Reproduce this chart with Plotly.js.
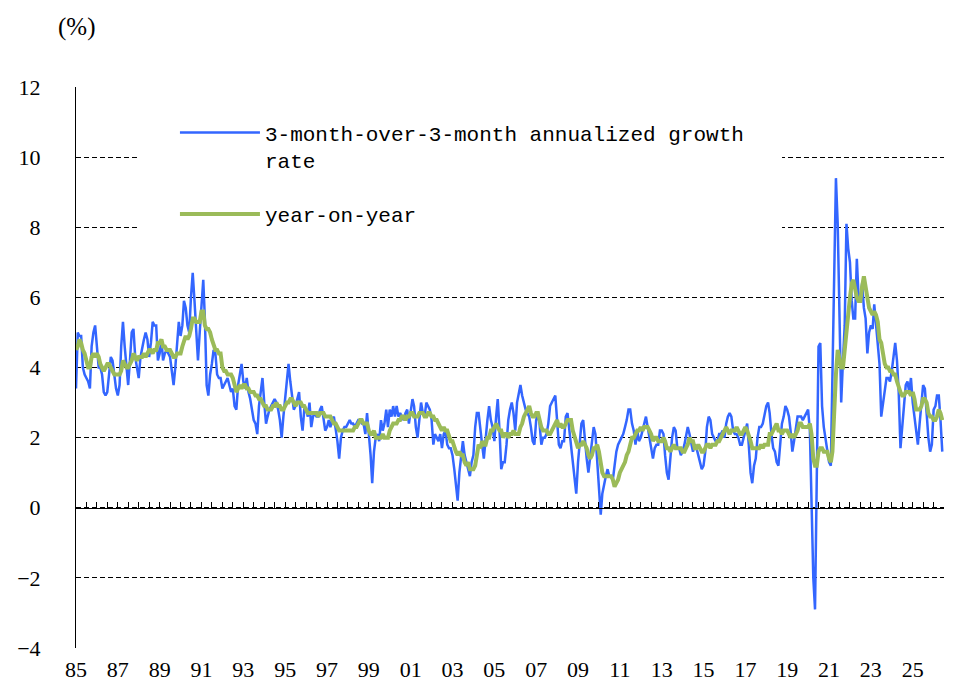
<!DOCTYPE html>
<html>
<head>
<meta charset="utf-8">
<script src="https://cdn.plot.ly/plotly-3.0.1.min.js"></script>
<style>
html, body { margin: 0; padding: 0; background: #fff; }
#chart { width: 965px; height: 695px; }
</style>
</head>
<body>
<div id="chart"></div>
<script>
// monthly series, starting January 1985
var startYear = 1985;

// 3-month-over-3-month annualized growth rate (%)
var annualized = [
	3.4, 5.0, 4.9, 4.9, 4.0, 3.8, 3.7, 3.6, 3.4, 4.6, 5.0, 5.2,
	4.6, 4.0, 4.0, 3.8, 3.3, 3.2, 3.3, 3.9, 4.3, 4.2, 3.8, 3.4,
	3.2, 3.5, 4.6, 5.3, 4.6, 4.0, 3.5, 4.2, 5.0, 5.1, 4.3, 4.0,
	3.7, 4.3, 4.6, 4.8, 5.0, 4.8, 4.3, 4.7, 5.3, 5.2, 5.2, 4.2,
	4.4, 4.8, 4.2, 4.4, 4.5, 4.4, 4.3, 3.9, 3.5, 4.0, 4.8, 5.3,
	4.9, 5.2, 5.9, 5.7, 5.2, 5.0, 6.0, 6.7, 5.9, 5.2, 4.2, 5.0,
	5.8, 6.5, 5.4, 3.5, 3.2, 3.8, 4.1, 4.5, 4.4, 3.8, 3.7, 3.7,
	3.4, 3.5, 3.6, 3.7, 3.5, 3.3, 3.4, 2.9, 2.8, 3.5, 3.8, 4.1,
	3.6, 3.4, 3.7, 3.3, 3.1, 2.8, 2.5, 2.4, 2.1, 2.9, 3.4, 3.7,
	3.0, 2.4, 2.6, 2.8, 2.9, 3.0, 3.1, 3.0, 2.8, 2.5, 2.0, 2.6,
	3.2, 3.7, 4.1, 3.6, 3.2, 2.8, 2.9, 3.1, 3.3, 2.6, 2.2, 2.8,
	2.8, 2.6, 3.0, 2.3, 2.6, 2.7, 2.6, 2.6, 2.8, 2.9, 2.6, 2.2,
	2.3, 2.5, 2.3, 2.5, 2.6, 2.3, 1.9, 1.4, 2.0, 2.2, 2.3, 2.3,
	2.4, 2.5, 2.4, 2.4, 2.3, 2.4, 2.5, 2.5, 2.4, 2.4, 2.1, 2.7,
	2.2, 1.5, 0.7, 1.6, 2.0, 2.1, 1.9, 2.5, 2.2, 2.4, 2.8, 2.3,
	2.8, 2.6, 2.9, 2.6, 2.9, 2.6, 2.7, 2.6, 2.5, 2.7, 2.8, 2.4,
	2.7, 3.1, 2.9, 2.3, 2.0, 2.6, 3.0, 2.7, 2.6, 3.0, 2.9, 2.8,
	2.5, 1.8, 2.1, 2.0, 1.9, 2.1, 1.7, 2.1, 2.2, 1.8, 1.7, 1.7,
	1.5, 1.1, 0.7, 0.2, 1.0, 1.5, 1.9, 1.5, 1.3, 1.1, 0.9, 1.3,
	1.5, 2.3, 2.7, 2.7, 2.2, 1.8, 1.4, 2.0, 2.5, 2.9, 2.5, 2.3,
	1.9, 2.6, 3.1, 2.2, 1.1, 1.3, 1.3, 1.8, 2.5, 2.8, 3.0, 2.7,
	2.2, 3.0, 3.2, 3.5, 3.2, 3.0, 2.8, 2.7, 2.6, 2.3, 1.9, 1.8,
	2.5, 2.7, 2.4, 1.8, 2.0, 2.0, 2.1, 2.4, 2.9, 3.0, 3.1, 3.2,
	2.5, 1.8, 1.7, 1.9, 1.9, 2.6, 2.7, 2.2, 1.7, 1.3, 0.8, 0.4,
	1.3, 2.0, 2.4, 2.5, 1.9, 1.4, 1.0, 1.5, 2.0, 2.3, 2.1, 1.4,
	0.4, -0.2, 0.4, 0.7, 0.9, 1.1, 0.9, 0.9, 0.8, 1.2, 1.6, 1.8,
	1.9, 2.0, 2.1, 2.3, 2.5, 2.8, 2.8, 2.4, 2.2, 1.8, 2.2, 1.9,
	2.0, 2.2, 2.4, 2.6, 2.3, 2.0, 1.7, 1.4, 1.7, 1.8, 1.8, 2.2,
	2.2, 2.1, 1.5, 1.0, 0.8, 1.4, 2.0, 2.3, 2.2, 1.7, 1.7, 1.5,
	1.6, 1.8, 2.0, 2.3, 2.1, 1.8, 1.6, 1.8, 1.7, 1.5, 1.3, 1.1,
	1.2, 1.6, 2.3, 2.6, 2.5, 2.1, 2.0, 1.9, 1.9, 2.1, 2.1, 2.2,
	2.0, 2.4, 2.6, 2.7, 2.6, 2.2, 2.1, 2.1, 2.0, 1.8, 1.8, 2.0,
	2.2, 2.4, 1.8, 1.0, 0.7, 1.2, 1.4, 2.0, 2.3, 2.3, 2.4, 2.7,
	2.9, 3.0, 2.7, 2.1, 1.7, 1.6, 1.3, 1.2, 1.8, 2.4, 2.6, 2.9,
	2.8, 2.6, 2.2, 1.6, 1.9, 2.3, 2.6, 2.6, 2.6, 2.5, 2.6, 2.7,
	2.8, 2.2, 0.0, -2.0, -2.9, 1.5, 4.6, 4.7, 2.9, 2.3, 2.0, 1.6,
	1.3, 1.2, 3.5, 6.2, 9.4, 8.1, 5.0, 3.0, 4.2, 5.2, 8.1, 7.4,
	7.0, 5.9, 5.4, 5.4, 7.1, 6.0, 5.9, 6.4, 5.7, 5.4, 4.4, 5.0,
	5.2, 5.1, 5.8, 5.2, 4.6, 4.1, 2.6, 3.0, 3.3, 3.7, 3.7, 3.6,
	3.9, 4.4, 4.7, 4.2, 3.3, 1.7, 2.2, 2.9, 3.5, 3.6, 3.3, 3.7,
	3.0, 2.6, 2.3, 1.8, 2.4, 3.0, 3.5, 3.4, 2.6, 2.0, 1.6, 1.8,
	2.8, 2.9, 3.2, 3.2, 2.5, 1.6
];

// year-on-year (%)
var yearOnYear = [
	4.5, 4.6, 4.8, 4.7, 4.5, 4.4, 4.2, 4.0, 4.0, 4.3, 4.4, 4.3,
	4.4, 4.3, 4.1, 4.0, 3.9, 4.0, 4.1, 4.1, 4.0, 3.9, 3.8, 3.8,
	3.8, 3.8, 3.9, 4.2, 4.1, 4.0, 4.0, 4.1, 4.2, 4.4, 4.3, 4.2,
	4.3, 4.3, 4.3, 4.4, 4.3, 4.4, 4.5, 4.5, 4.4, 4.5, 4.5, 4.7,
	4.7, 4.8, 4.6, 4.6, 4.5, 4.5, 4.5, 4.4, 4.3, 4.3, 4.4, 4.4,
	4.4, 4.6, 4.8, 4.9, 4.8, 4.9, 5.1, 5.4, 5.4, 5.3, 5.3, 5.3,
	5.6, 5.6, 5.2, 5.1, 5.1, 5.0, 4.8, 4.6, 4.5, 4.5, 4.4, 4.4,
	4.0, 3.9, 3.9, 3.8, 3.8, 3.8, 3.7, 3.5, 3.3, 3.4, 3.5, 3.4,
	3.5, 3.5, 3.4, 3.4, 3.3, 3.3, 3.3, 3.2, 3.2, 3.1, 3.1, 3.0,
	2.9, 2.9, 2.8, 2.8, 2.8, 2.9, 2.9, 3.0, 2.9, 2.9, 2.8, 2.8,
	2.9, 3.0, 3.0, 3.1, 3.1, 3.0, 2.9, 3.0, 3.0, 3.0, 2.9, 2.9,
	2.8, 2.7, 2.7, 2.7, 2.7, 2.7, 2.7, 2.6, 2.7, 2.7, 2.7, 2.6,
	2.6, 2.6, 2.6, 2.5, 2.4, 2.4, 2.3, 2.2, 2.2, 2.2, 2.2, 2.2,
	2.2, 2.2, 2.2, 2.2, 2.3, 2.3, 2.4, 2.5, 2.5, 2.4, 2.4, 2.4,
	2.2, 2.1, 2.1, 2.2, 2.0, 2.0, 2.0, 2.0, 2.1, 2.0, 2.0, 2.0,
	2.2, 2.3, 2.4, 2.4, 2.4, 2.5, 2.5, 2.6, 2.6, 2.5, 2.6, 2.6,
	2.7, 2.7, 2.6, 2.6, 2.6, 2.7, 2.7, 2.7, 2.6, 2.6, 2.7, 2.7,
	2.6, 2.6, 2.5, 2.5, 2.4, 2.3, 2.2, 2.3, 2.2, 2.2, 2.0, 1.9,
	1.9, 1.7, 1.6, 1.5, 1.6, 1.5, 1.5, 1.3, 1.2, 1.3, 1.1, 1.1,
	1.1, 1.2, 1.6, 1.8, 1.7, 1.9, 1.8, 1.8, 2.0, 2.0, 2.2, 2.2,
	2.3, 2.4, 2.3, 2.2, 2.2, 2.0, 2.1, 2.1, 2.0, 2.1, 2.1, 2.2,
	2.1, 2.1, 2.1, 2.3, 2.4, 2.6, 2.7, 2.8, 2.9, 2.7, 2.6, 2.6,
	2.7, 2.7, 2.5, 2.3, 2.2, 2.2, 2.2, 2.1, 2.1, 2.2, 2.3, 2.4,
	2.5, 2.3, 2.4, 2.3, 2.3, 2.4, 2.5, 2.5, 2.5, 2.2, 2.0, 1.8,
	1.7, 1.8, 1.8, 1.9, 1.8, 1.7, 1.5, 1.4, 1.5, 1.7, 1.7, 1.8,
	1.6, 1.3, 1.0, 0.9, 0.9, 0.9, 0.9, 0.9, 0.8, 0.6, 0.7, 0.8,
	1.0, 1.1, 1.2, 1.3, 1.5, 1.6, 1.8, 2.0, 2.0, 2.1, 2.2, 2.2,
	2.3, 2.2, 2.3, 2.3, 2.3, 2.2, 2.1, 1.9, 2.0, 2.0, 1.9, 1.9,
	1.9, 2.0, 1.9, 1.7, 1.7, 1.6, 1.7, 1.8, 1.7, 1.7, 1.7, 1.7,
	1.6, 1.6, 1.7, 1.8, 2.0, 1.9, 1.9, 1.7, 1.7, 1.8, 1.7, 1.6,
	1.6, 1.7, 1.8, 1.8, 1.7, 1.8, 1.8, 1.8, 1.9, 1.9, 2.0, 2.1,
	2.2, 2.3, 2.2, 2.1, 2.2, 2.2, 2.2, 2.3, 2.2, 2.1, 2.1, 2.2,
	2.3, 2.2, 2.0, 1.9, 1.7, 1.7, 1.7, 1.7, 1.7, 1.8, 1.7, 1.8,
	1.8, 1.8, 2.1, 2.1, 2.2, 2.3, 2.4, 2.2, 2.2, 2.1, 2.2, 2.2,
	2.2, 2.1, 2.0, 2.1, 2.0, 2.1, 2.2, 2.4, 2.4, 2.3, 2.3, 2.3,
	2.3, 2.4, 2.1, 1.4, 1.2, 1.2, 1.6, 1.7, 1.7, 1.6, 1.6, 1.6,
	1.4, 1.3, 1.6, 3.0, 3.8, 4.5, 4.3, 4.0, 4.0, 4.6, 4.9, 5.5,
	6.0, 6.4, 6.5, 6.2, 6.0, 5.9, 5.9, 6.3, 6.6, 6.3, 6.0, 5.7,
	5.6, 5.5, 5.6, 5.5, 5.3, 4.8, 4.7, 4.3, 4.1, 4.0, 4.0, 3.9,
	3.9, 3.8, 3.8, 3.6, 3.4, 3.3, 3.2, 3.2, 3.3, 3.3, 3.3, 3.2,
	3.3, 3.1, 2.8, 2.8, 2.8, 2.9, 3.1, 3.1, 3.0, 2.7, 2.6, 2.6,
	2.5, 2.5, 2.6, 2.8, 2.7, 2.5
];

var yearLabels = ['85', '87', '89', '91', '93', '95', '97', '99', '01', '03',
	'05', '07', '09', '11', '13', '15', '17', '19', '21', '23', '25'];

var blueName = '3-month-over-3-month annualized growth<br>rate';
var greenName = 'year-on-year';


function monthDates(n) {
	var out = [];
	for (var i = 0; i < n; i++) {
		var y = startYear + Math.floor(i / 12);
		var m = i % 12 + 1;
		out.push(y + '-' + (m < 10 ? '0' + m : m) + '-01');
	}
	return out;
}

function drawChart() {

	var dates = monthDates(annualized.length);

	var tickVals = [];
	for (var i = 0; i < yearLabels.length; i++) {
		tickVals.push((startYear + i * 2) + '-01-01');
	}

	var xRange = ['1985-01-01', '2026-07-01'];
	var serif = 'Liberation Serif, Times New Roman, serif';

	var trace1 = {
	  x: dates,
	  y: annualized,
	  type: 'scatter',
	  mode: 'lines',
	  name: blueName,
	  legendgroup: 'a',
	  line: {color: '#3366ff', width: 2.5}
	};

	var trace2 = {
	  x: dates,
	  y: yearOnYear,
	  type: 'scatter',
	  mode: 'lines',
	  name: greenName,
	  legendgroup: 'b',
	  xaxis: 'x2',
	  line: {color: '#9bbb59', width: 4}
	};

	var layout = {
		width: 965,
		height: 695,
		margin: {l: 76, r: 21, t: 87, b: 47},
		paper_bgcolor: '#fff',
		plot_bgcolor: '#fff',
		showlegend: true,
		xaxis: {
			type: 'date',
			range: xRange,
			tickvals: tickVals,
			ticktext: yearLabels,
			ticks: '',
			showgrid: false,
			showline: false,
			zeroline: false,
			ticklabelstandoff: 6,
			tickfont: {family: serif, size: 22, color: '#000'}
		},
		xaxis2: {
			type: 'date',
			range: xRange,
			overlaying: 'x',
			anchor: 'free',
			position: 0.25,
			side: 'bottom',
			showline: true,
			linecolor: '#000',
			linewidth: 1.5,
			ticks: 'inside',
			ticklen: 6,
			tickwidth: 1,
			tickcolor: '#000',
			tick0: '1985-01-01',
			dtick: 'M6',
			showticklabels: false,
			showgrid: false,
			zeroline: false
		},
		yaxis: {
			range: [-4, 12],
			tick0: 0,
			dtick: 2,
			showgrid: true,
			gridcolor: '#000',
			gridwidth: 1,
			griddash: '5px,3px',
			showline: true,
			linecolor: '#000',
			linewidth: 1,
			zeroline: false,
			ticks: '',
			ticklabelstandoff: 30,
			tickfont: {family: serif, size: 22, color: '#000'}
		},
		legend: {
			x: 0.114,
			y: 0.955,
			xanchor: 'left',
			yanchor: 'top',
			bgcolor: 'rgba(0,0,0,0)',
			itemwidth: 80,
			valign: 'top',
			traceorder: 'grouped',
			tracegroupgap: 24,
			font: {family: 'Liberation Mono, DejaVu Sans Mono, monospace', size: 21, color: '#000'}
		},
		// white panel behind the legend; no data runs through this area
		shapes: [{
			type: 'rect',
			xref: 'paper',
			yref: 'paper',
			x0: 0.0714,
			x1: 0.8134,
			y0: 0.688,
			y1: 0.977,
			layer: 'above',
			fillcolor: '#fff',
			line: {width: 0}
		}],
		annotations: [{
			text: '(%)',
			xref: 'paper',
			yref: 'paper',
			x: 0,
			y: 1.107,
			xanchor: 'center',
			yanchor: 'middle',
			showarrow: false,
			font: {family: serif, size: 25, color: '#000'}
		}]
	};

	Plotly.newPlot('chart', [trace1, trace2], layout, {displayModeBar: false, staticPlot: true});
}

drawChart();
</script>
</body>
</html>
